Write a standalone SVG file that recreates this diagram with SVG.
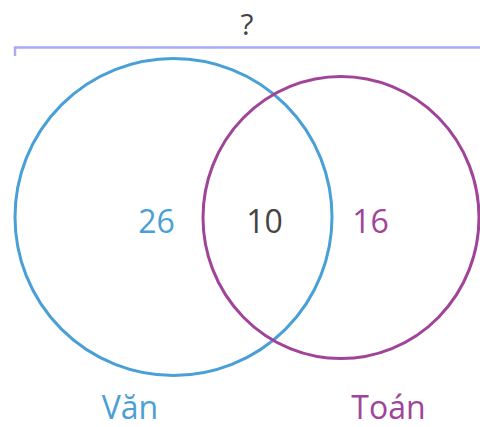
<svg xmlns="http://www.w3.org/2000/svg" width="480" height="427" viewBox="0 0 480 427">
<style>
text{font-family:"Open Sans","Noto Sans","Liberation Sans",sans-serif;font-size:32px;text-anchor:middle}
.blue{fill:#4aa0d6}
.purple{fill:#a0449a}
.dark{fill:#444}
</style>
<rect width="480" height="427" fill="#fff"/>
<g id="bracket">
<path d="M15,56 V47.5 H480" fill="none" stroke="#aaaaf6" stroke-width="2.5"/>
<text x="247" y="35" class="dark" style="font-size:30px">?</text>
</g>
<g id="van">
<circle cx="173.5" cy="217" r="158.5" fill="none" stroke="#4aa0d6" stroke-width="3"/>
<text x="130" y="419" class="blue">Văn</text>
</g>
<g id="toan">
<ellipse cx="341" cy="217.5" rx="138" ry="141" fill="none" stroke="#a0449a" stroke-width="3"/>
<text x="388.5" y="419" class="purple">Toán</text>
</g>
<g id="labels">
<text x="156.5" y="233" class="blue">26</text>
<text x="264.5" y="233" class="dark">10</text>
<text x="370.5" y="233" class="purple">16</text>
</g>
</svg>
